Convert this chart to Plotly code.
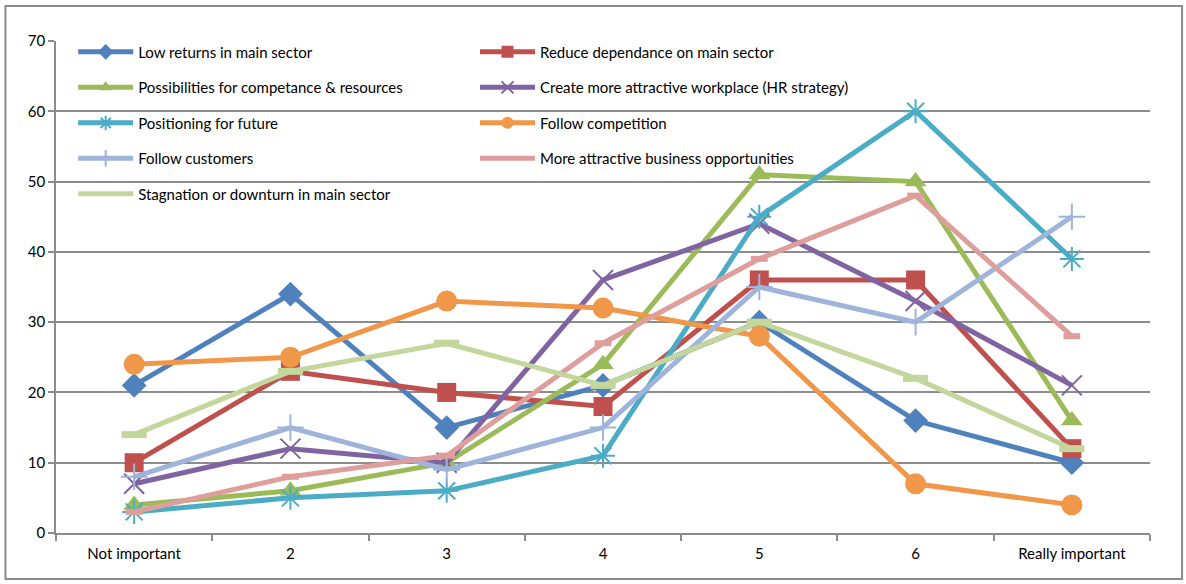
import plotly.graph_objects as go

categories = ["Not important", "2", "3", "4", "5", "6", "Really important"]

series_names = [
    "Low returns in main sector",
    "Reduce dependance on main sector",
    "Possibilities for competance & resources",
    "Create more attractive workplace (HR strategy)",
    "Positioning for future",
    "Follow competition",
    "Follow customers",
    "More attractive business opportunities",
    "Stagnation or downturn in main sector",
]

low_returns = [21, 34, 15, 21, 30, 16, 10]
reduce_dependance = [10, 23, 20, 18, 36, 36, 12]
possibilities = [4, 6, 10, 24, 51, 50, 16]
attractive_workplace = [7, 12, 10, 36, 44, 33, 21]
positioning = [3, 5, 6, 11, 45, 60, 39]
follow_competition = [24, 25, 33, 32, 28, 7, 4]
follow_customers = [8, 15, 9, 15, 35, 30, 45]
business_opportunities = [3, 8, 11, 27, 39, 48, 28]
stagnation = [14, 23, 27, 21, 30, 22, 12]

y_ticks = [0, 10, 20, 30, 40, 50, 60, 70]

values = [low_returns, reduce_dependance, possibilities, attractive_workplace,
          positioning, follow_competition, follow_customers,
          business_opportunities, stagnation]

colors = ["#4F81BD", "#C0504D", "#9BBB59", "#8064A2", "#4BACC6",
          "#F0974A", "#9FB4DA", "#DE9E9C", "#C3D69B"]
symbols = ["diamond", "square", "triangle-up", "x-thin-open", "asterisk-open",
           "circle", "cross-thin-open", "line-ew-open", "line-ew-open"]
sizes = [19, 19, 19, 20, 20, 21, 19, 12, 18]
mline = [0, 0, 0, 2, 2, 0, 2, 6, 7]
legends = ["legend", "legend2", "legend", "legend2", "legend",
           "legend2", "legend", "legend2", "legend"]

FONT = "Lato, Open Sans, sans-serif"

fig = go.Figure()
for i, (name, vals) in enumerate(zip(series_names, values)):
    fig.add_trace(go.Scatter(
        x=categories, y=vals, name=name, mode="lines+markers",
        line=dict(color=colors[i], width=5),
        marker=dict(symbol=symbols[i], size=sizes[i], color=colors[i],
                    line=dict(color=colors[i], width=mline[i])),
        legend=legends[i], legendgroup="g%d" % i,
    ))

legend_common = dict(
    orientation="v", bgcolor="rgba(0,0,0,0)", borderwidth=0,
    font=dict(family=FONT, size=15, color="#000000"),
    tracegroupgap=13, itemwidth=55, itemsizing="constant",
    xanchor="left", yanchor="top", xref="paper", yref="paper",
)

fig.update_layout(
    width=1186, height=584,
    margin=dict(l=56, r=36, t=41, b=51),
    paper_bgcolor="white", plot_bgcolor="white",
    font=dict(family=FONT, size=15, color="#000000"),
    showlegend=True,
    legend=dict(legend_common, x=0.0157, y=1.011),
    legend2=dict(legend_common, x=0.383, y=1.011),
    xaxis=dict(
        type="category", range=[-0.5, 6.5], tickson="boundaries",
        ticks="outside", ticklen=6, tickcolor="#8C8C8C", tickwidth=1.5,
        showline=True, linecolor="#8C8C8C", linewidth=1.5,
        showgrid=False, tickfont=dict(family=FONT, size=15),
        ticklabelstandoff=6,
    ),
    yaxis=dict(
        range=[0, 70], tickvals=y_ticks, ticks="outside", ticklen=6,
        tickcolor="#8C8C8C", tickwidth=1.5,
        showline=True, linecolor="#8C8C8C", linewidth=1.5,
        showgrid=True, gridcolor="#8C8C8C", gridwidth=1.5,
        zeroline=False, tickfont=dict(family=FONT, size=15),
    ),
    shapes=[dict(type="rect", xref="paper", yref="paper",
                 x0=-0.0462, x1=1.0293, y0=-0.0935, y1=1.0711,
                 line=dict(color="#8C8C8C", width=2), layer="below")],
)

fig.write_html("out.html", config={"displayModeBar": False},
               post_script="document.body.style.margin='0';")
